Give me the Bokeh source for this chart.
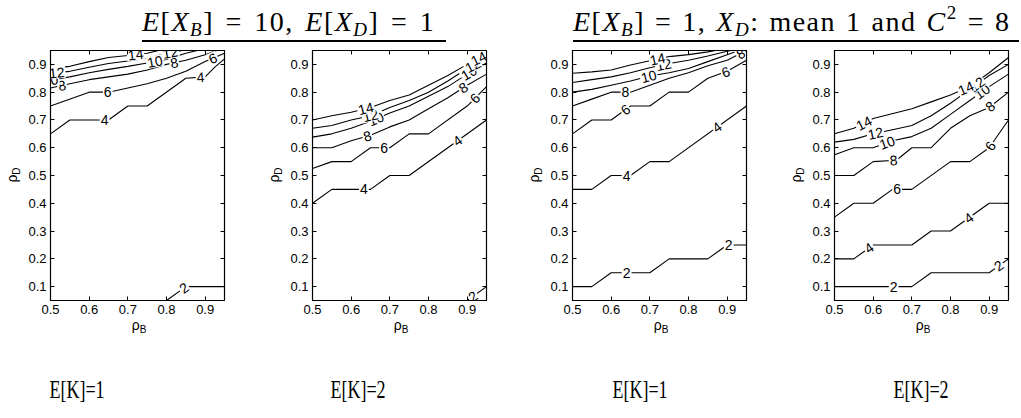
import math
import numpy as np
from bokeh.plotting import figure
from bokeh.models import ColumnDataSource, LinearAxis, FixedTicker, Div, Range1d
from bokeh.layouts import row, column
from bokeh.embed import file_html
from bokeh.resources import INLINE
from bokeh.core.properties import value

# ---------------- data ----------------
X_TICKS = [0.5, 0.6, 0.7, 0.8, 0.9]
Y_TICKS = [0.1, 0.2, 0.3, 0.4, 0.5, 0.6, 0.7, 0.8, 0.9]
X_LIM = (0.5, 0.95)
Y_LIM = (0.05, 0.95)
LEVELS = [2, 4, 6, 8, 10, 12, 14]

TITLE_1 = "<i>E</i>[<i>X</i><sub><i>B</i></sub>] = 10, <i>E</i>[<i>X</i><sub><i>D</i></sub>] = 1"
TITLE_2 = "<i>E</i>[<i>X</i><sub><i>B</i></sub>] = 1, <i>X</i><sub><i>D</i></sub>: mean 1 and <i>C</i><sup>2</sup> = 8"
PANEL_CAPTIONS = ["E[K]=1", "E[K]=2", "E[K]=1", "E[K]=2"]
X_LABEL = "ρ<sub>B</sub>"
Y_LABEL = "ρ<sub>D</sub>"

# Panel 1: E[X_B]=10, E[X_D]=1, E[K]=1   (one polyline per level, in LEVELS order)
p1_x = [
    [0.80, 0.85, 0.95],
    [0.50, 0.55, 0.65, 0.70, 0.75, 0.85, 0.90, 0.925, 0.95],
    [0.50, 0.60, 0.65, 0.70, 0.75, 0.80, 0.85, 0.90, 0.95],
    [0.50, 0.55, 0.60, 0.65, 0.70, 0.75, 0.80, 0.85, 0.90, 0.93],
    [0.50, 0.55, 0.60, 0.65, 0.70, 0.75, 0.80, 0.85, 0.88],
    [0.50, 0.55, 0.60, 0.65, 0.70, 0.75, 0.80, 0.84],
    [0.50, 0.55, 0.60, 0.65, 0.70, 0.75, 0.78],
]
p1_y = [
    [0.05, 0.10, 0.10],
    [0.65, 0.70, 0.70, 0.75, 0.75, 0.85, 0.855, 0.89, 0.92],
    [0.75, 0.80, 0.80, 0.815, 0.83, 0.85, 0.875, 0.91, 0.94],
    [0.815, 0.83, 0.845, 0.855, 0.865, 0.88, 0.90, 0.915, 0.935, 0.95],
    [0.843, 0.855, 0.87, 0.882, 0.893, 0.905, 0.918, 0.94, 0.95],
    [0.868, 0.875, 0.89, 0.903, 0.912, 0.922, 0.94, 0.95],
    [0.885, 0.893, 0.91, 0.925, 0.932, 0.94, 0.95],
]
p1_lab = [[0.845], [0.64, 0.888], [0.648, 0.92], [0.53, 0.82], [0.5, 0.77], [0.516, 0.81], [0.72]]

# Panel 2: E[X_B]=10, E[X_D]=1, E[K]=2
p2_x = [
    [0.90, 0.95],
    [0.50, 0.55, 0.65, 0.70, 0.75, 0.95],
    [0.50, 0.55, 0.60, 0.65, 0.70, 0.75, 0.80, 0.90, 0.95],
    [0.50, 0.55, 0.60, 0.65, 0.70, 0.75, 0.80, 0.85, 0.90, 0.95],
    [0.50, 0.55, 0.60, 0.65, 0.70, 0.75, 0.80, 0.85, 0.90, 0.95],
    [0.50, 0.55, 0.60, 0.65, 0.70, 0.75, 0.80, 0.85, 0.90, 0.95],
    [0.50, 0.55, 0.60, 0.65, 0.70, 0.75, 0.80, 0.85, 0.90, 0.95],
]
p2_y = [
    [0.05, 0.10],
    [0.40, 0.45, 0.45, 0.50, 0.50, 0.70],
    [0.525, 0.55, 0.55, 0.60, 0.60, 0.65, 0.65, 0.75, 0.82],
    [0.60, 0.60, 0.625, 0.645, 0.675, 0.70, 0.74, 0.78, 0.825, 0.865],
    [0.638, 0.65, 0.67, 0.695, 0.725, 0.75, 0.785, 0.82, 0.865, 0.905],
    [0.67, 0.68, 0.70, 0.715, 0.745, 0.77, 0.80, 0.84, 0.885, 0.92],
    [0.70, 0.715, 0.728, 0.745, 0.77, 0.79, 0.825, 0.86, 0.90, 0.935],
]
p2_lab = [[0.915], [0.633, 0.875], [0.685, 0.92], [0.642, 0.89], [0.664, 0.905], [0.65, 0.915], [0.638, 0.93]]

# Panel 3: E[X_B]=1, X_D mean 1 and C^2=8, E[K]=1
p3_x = [
    [0.50, 0.55, 0.60, 0.70, 0.75, 0.85, 0.90, 0.95],
    [0.50, 0.55, 0.60, 0.65, 0.70, 0.75, 0.95],
    [0.50, 0.55, 0.60, 0.65, 0.70, 0.75, 0.80, 0.85, 0.90, 0.95],
    [0.50, 0.55, 0.60, 0.65, 0.70, 0.75, 0.80, 0.85, 0.90, 0.95],
    [0.50, 0.55, 0.60, 0.65, 0.70, 0.75, 0.80, 0.85, 0.90, 0.93],
    [0.50, 0.55, 0.60, 0.65, 0.70, 0.75, 0.80, 0.85, 0.90, 0.91],
    [0.50, 0.55, 0.60, 0.65, 0.70, 0.75, 0.80, 0.85, 0.87],
]
p3_y = [
    [0.10, 0.10, 0.15, 0.15, 0.20, 0.20, 0.25, 0.25],
    [0.45, 0.45, 0.50, 0.50, 0.55, 0.55, 0.75],
    [0.65, 0.70, 0.70, 0.75, 0.75, 0.80, 0.80, 0.85, 0.875, 0.915],
    [0.75, 0.775, 0.80, 0.80, 0.825, 0.85, 0.87, 0.895, 0.915, 0.95],
    [0.80, 0.81, 0.825, 0.84, 0.858, 0.87, 0.885, 0.91, 0.935, 0.95],
    [0.835, 0.845, 0.855, 0.87, 0.888, 0.903, 0.915, 0.93, 0.947, 0.95],
    [0.868, 0.873, 0.88, 0.898, 0.913, 0.928, 0.935, 0.945, 0.95],
]
p3_lab = [[0.64, 0.904], [0.64, 0.874], [0.637, 0.896], [0.637, 0.935], [0.697], [0.736], [0.72]]

# Panel 4: E[X_B]=1, X_D mean 1 and C^2=8, E[K]=2
p4_x = [
    [0.50, 0.70, 0.75, 0.90, 0.95],
    [0.50, 0.55, 0.60, 0.70, 0.75, 0.80, 0.90, 0.95],
    [0.50, 0.55, 0.60, 0.65, 0.70, 0.80, 0.85, 0.90, 0.95],
    [0.50, 0.55, 0.60, 0.66, 0.70, 0.75, 0.80, 0.85, 0.90, 0.95],
    [0.50, 0.55, 0.60, 0.65, 0.70, 0.75, 0.80, 0.85, 0.90, 0.95],
    [0.50, 0.55, 0.60, 0.65, 0.70, 0.75, 0.80, 0.85, 0.90, 0.95],
    [0.50, 0.55, 0.60, 0.70, 0.75, 0.80, 0.85, 0.90, 0.95],
]
p4_y = [
    [0.10, 0.10, 0.15, 0.15, 0.20],
    [0.20, 0.20, 0.25, 0.25, 0.30, 0.30, 0.40, 0.40],
    [0.35, 0.40, 0.40, 0.45, 0.45, 0.55, 0.55, 0.60, 0.70],
    [0.50, 0.50, 0.55, 0.555, 0.60, 0.60, 0.67, 0.715, 0.745, 0.80],
    [0.575, 0.60, 0.60, 0.625, 0.64, 0.67, 0.72, 0.77, 0.82, 0.865],
    [0.62, 0.63, 0.65, 0.665, 0.68, 0.715, 0.76, 0.81, 0.86, 0.90],
    [0.65, 0.67, 0.705, 0.74, 0.765, 0.79, 0.82, 0.87, 0.925],
]
p4_lab = [[0.653, 0.925], [0.589, 0.847], [0.662, 0.903], [0.653, 0.903], [0.636, 0.882], [0.606, 0.868], [0.576, 0.84]]

# ---------------- layout / style ----------------
FW, FH = 174, 250
BORDER_LEFT = [50, 42, 42, 42]
BORDER_RIGHT = [46, 44, 46, 4]
TOP_H = 42          # header height
FRAME_TOP = 8       # figure top border
FONT = "Liberation Sans"


def label_source(xs, ys, labs):
    kx = FW / (X_LIM[1] - X_LIM[0])
    ky = FH / (Y_LIM[1] - Y_LIM[0])
    X, Y, T, A = [], [], [], []
    for lev, x, y, lx in zip(LEVELS, xs, ys, labs):
        x = np.asarray(x, dtype=float)
        y = np.asarray(y, dtype=float)
        for x0 in lx:
            y0 = float(np.interp(x0, x, y))
            i = int(np.clip(np.searchsorted(x, x0) - 1, 0, len(x) - 2))
            ang = math.atan2((y[i + 1] - y[i]) * ky, (x[i + 1] - x[i]) * kx)
            X.append(x0); Y.append(y0); T.append(str(lev)); A.append(ang)
    return ColumnDataSource(dict(x=X, y=Y, t=T, a=A))


def style_axis(ax, labels=True):
    ax.major_tick_in = 4
    ax.major_tick_out = 0
    ax.minor_tick_line_color = None
    ax.axis_line_color = "black"
    ax.major_tick_line_color = "black"
    ax.major_label_text_font = FONT
    if labels:
        ax.major_label_text_color = "black"
        ax.major_label_text_font_size = "13px"
        ax.major_label_standoff = 4
    else:
        ax.major_label_text_color = None
        ax.major_label_text_font_size = "0px"
        ax.major_label_standoff = 0


def make_panel(xs, ys, labs, left_border, right_border):
    p = figure(frame_width=FW, frame_height=FH,
               x_range=Range1d(*X_LIM), y_range=Range1d(*Y_LIM),
               output_backend="svg", toolbar_location=None,
               min_border_left=left_border, min_border_right=right_border,
               min_border_top=FRAME_TOP, min_border_bottom=40)
    p.background_fill_color = "white"
    p.border_fill_color = "white"
    p.outline_line_color = "black"
    p.outline_line_width = 1.2
    p.grid.visible = False

    p.xaxis.ticker = FixedTicker(ticks=X_TICKS)
    p.yaxis.ticker = FixedTicker(ticks=Y_TICKS)
    for ax in p.xaxis + p.yaxis:
        style_axis(ax)

    top = LinearAxis(ticker=FixedTicker(ticks=X_TICKS))
    right = LinearAxis(ticker=FixedTicker(ticks=Y_TICKS))
    style_axis(top, labels=False)
    style_axis(right, labels=False)
    p.add_layout(top, "above")
    p.add_layout(right, "right")

    p.multi_line(xs=xs, ys=ys, line_color="black", line_width=1.1)

    src = label_source(xs, ys, labs)
    p.text(x="x", y="y", text="t", angle="a", source=src,
           text_font=value(FONT), text_font_size="14px", text_color="black",
           text_align="center", text_baseline="middle",
           background_fill_color="white", padding=1)
    return p


panels = [
    make_panel(p1_x, p1_y, p1_lab, BORDER_LEFT[0], BORDER_RIGHT[0]),
    make_panel(p2_x, p2_y, p2_lab, BORDER_LEFT[1], BORDER_RIGHT[1]),
    make_panel(p3_x, p3_y, p3_lab, BORDER_LEFT[2], BORDER_RIGHT[2]),
    make_panel(p4_x, p4_y, p4_lab, BORDER_LEFT[3], BORDER_RIGHT[3]),
]

# ---- header (titles with underline) ----
SUB = '<sub style="font-size:19px;line-height:0;vertical-align:-5px">'
SUP = '<sup style="font-size:19px;line-height:0;vertical-align:12px">'
t1 = TITLE_1.replace("<sub>", SUB).replace("<sup>", SUP)
t2 = TITLE_2.replace("<sub>", SUB).replace("<sup>", SUP)
tcss = ("position:absolute;white-space:nowrap;font-family:'Liberation Serif';"
        "font-size:28px;line-height:28px;color:black;top:8px;letter-spacing:1.5px;")
header_html = (
    '<div style="position:relative;width:1020px;height:42px;">'
    f'<div style="{tcss}left:142px;word-spacing:3px;">{t1}</div>'
    '<div style="position:absolute;left:142px;top:40px;width:304px;height:2px;background:black;"></div>'
    f'<div style="{tcss}left:573px;word-spacing:1.5px;">{t2}</div>'
    '<div style="position:absolute;left:573px;top:40px;width:446px;height:2px;background:black;"></div>'
    '</div>'
)
header = Div(text=header_html, width=1020, height=TOP_H, margin=0)

# ---- footer (captions) ----
cap_centers = [77, 358, 640, 921]
ccss = ("position:absolute;white-space:nowrap;font-family:'Liberation Serif';font-size:25px;"
        "line-height:25px;color:black;top:37px;width:100px;text-align:center;"
        "transform:scaleX(0.72);")
footer_html = '<div style="position:relative;width:1012px;height:66px;">' + "".join(
    f'<div style="{ccss}left:{c - 50}px;">{txt}</div>' for c, txt in zip(cap_centers, PANEL_CAPTIONS)
) + '</div>'
footer = Div(text=footer_html, width=1012, height=66, margin=0)

# ---- overlay with axis titles (rho_B, rho_D) ----
frame_lefts = np.cumsum([0] + [BORDER_LEFT[i] + FW + BORDER_RIGHT[i] for i in range(3)]) + np.array(BORDER_LEFT)
frame_top = TOP_H + FRAME_TOP
lcss = ("position:absolute;white-space:nowrap;font-family:'Liberation Sans';font-size:14px;"
        "line-height:14px;color:black;")
sub_css = '<sub style="font-size:10px;line-height:0;vertical-align:-3px">'
ov = []
for L in frame_lefts:
    ylab = Y_LABEL.replace("<sub>", sub_css)
    xlab = X_LABEL.replace("<sub>", sub_css)
    ov.append(f'<div style="{lcss}left:{L - 38}px;top:{frame_top + FH / 2}px;'
              f'transform:translate(-50%,-50%) rotate(-90deg);">{ylab}</div>')
    ov.append(f'<div style="{lcss}left:{L + FW / 2 + 2}px;top:{frame_top + FH + 25}px;'
              f'transform:translate(-50%,-50%);">{xlab}</div>')
overlay_html = '<div style="position:relative;width:1012px;height:406px;">' + "".join(ov) + '</div>'
overlay = Div(text=overlay_html, width=1012, height=406, margin=0,
              styles={"position": "absolute", "left": "0px", "top": "0px",
                      "pointer-events": "none", "z-index": "10"})

layout = column(header, row(*panels, spacing=0), footer, overlay, spacing=0)

with open("out.html", "w") as f:
    f.write(file_html(layout, INLINE))
